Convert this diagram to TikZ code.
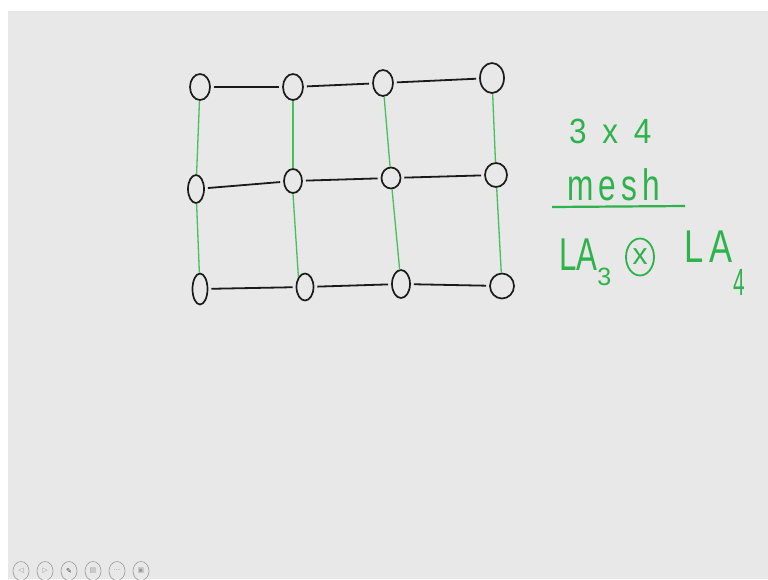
\documentclass[tikz,border=0pt]{standalone}
\usepackage{fontspec}
\setmainfont{Liberation Sans}
\newfontfamily\symfont{DejaVu Sans}
\usetikzlibrary{shapes.geometric}
\definecolor{boardgray}{HTML}{E8E8E8}
\definecolor{penblack}{HTML}{1A1A1A}
\definecolor{pengreen}{HTML}{46C05A}
\definecolor{inkgreen}{HTML}{2EB24C}
\definecolor{icongray}{HTML}{9A9A9A}

\begin{document}
\begin{tikzpicture}[
      x=1pt, y=-1pt,
      vtx/.style={draw=penblack, line width=1.7pt, ellipse, inner sep=0pt,
                  minimum width=20pt, minimum height=26pt},
      hlink/.style={draw=penblack, line width=1.8pt, shorten <=3pt, shorten >=3pt},
      vlink/.style={draw=pengreen, line width=1.3pt},
      hand/.style={text=inkgreen, inner sep=0pt, anchor=base west},
      iconbtn/.style={draw=icongray, line width=0.6pt, ellipse, inner sep=0pt,
                      minimum width=16pt, minimum height=19pt, text=icongray,
                      font=\symfont\fontsize{7}{7}\selectfont}
    ]
    % board
    \useasboundingbox (0,0) rectangle (768,579);
    \fill[white] (0,0) rectangle (768,579);
    \fill[boardgray] (8,11) rectangle (768,579);

    % mesh, row 1
    \node[vtx] (n11) at (200,87) {};
    \node[vtx] (n12) at (293,87) {};
    \node[vtx] (n13) at (383,83) {};
    \node[vtx, minimum width=24pt, minimum height=30pt] (n14) at (492,78) {};
    % mesh, row 2
    \node[vtx, minimum width=16pt, minimum height=28pt] (n21) at (196,189) {};
    \node[vtx, minimum width=18pt, minimum height=24pt] (n22) at (293,181) {};
    \node[vtx, minimum width=19pt, minimum height=21pt] (n23) at (391,178) {};
    \node[vtx, minimum width=22pt, minimum height=24pt] (n24) at (496,175) {};
    % mesh, row 3
    \node[vtx, minimum width=15pt, minimum height=31pt] (n31) at (200,289) {};
    \node[vtx, minimum width=17pt, minimum height=27pt] (n32) at (305,287) {};
    \node[vtx, minimum width=18pt, minimum height=28pt] (n33) at (401,284) {};
    \node[vtx, minimum width=24pt, minimum height=25pt] (n34) at (502,286) {};

    % black links along the rows
    \draw[hlink] (n11) -- (n12);
    \draw[hlink] (n12) -- (n13);
    \draw[hlink] (n13) -- (n14);
    \draw[hlink] (n21) -- (n22);
    \draw[hlink] (n22) -- (n23);
    \draw[hlink] (n23) -- (n24);
    \draw[hlink] (n31) -- (n32);
    \draw[hlink] (n32) -- (n33);
    \draw[hlink] (n33) -- (n34);

    % green links down the columns
    \draw[vlink] (n11) -- (n21);
    \draw[vlink] (n21) -- (n31);
    \draw[vlink] (n12) -- (n22);
    \draw[vlink] (n22.south) -- (n32.north west);
    \draw[vlink] (n13) -- (n23);
    \draw[vlink] (n23) -- (n33);
    \draw[vlink] (n14) -- (n24);
    \draw[vlink] (n24) -- (n34);

    % notes on the right
    \node[hand, font=\fontsize{35}{40}\selectfont] (size) at (569,143)
      {\scalebox{0.9}[1]{3\enspace x\enspace 4}};
    \node[hand, font=\fontsize{44}{48}\selectfont] (word) at (567,200)
      {\scalebox{0.72}[1]{m\,e\,s\,h}};
    \coordinate (barL) at (552,207);
    \coordinate (barR) at (685,206);
    \draw[draw=inkgreen, line width=2.2pt] (barL) -- (barR);
    \node[hand, font=\fontsize{46}{50}\selectfont] (la3) at (559,270)
      {\scalebox{0.68}[1]{LA}\raisebox{-15pt}{\fontsize{25}{25}\selectfont 3}};
    \node[draw=inkgreen, line width=1.8pt, ellipse, inner sep=0pt,
          minimum width=28pt, minimum height=37pt, text=inkgreen,
          font=\fontsize{30}{30}\selectfont] (otimes) at (640,257) {x};
    \node[hand, font=\fontsize{46}{50}\selectfont] (la4) at (684,262)
      {\scalebox{0.75}[1]{L\,A}\hspace{1pt}\raisebox{-33pt}{\fontsize{38}{38}\selectfont\scalebox{0.55}[1]{4}}};

    % player buttons
    \node[iconbtn] (prev) at (21,571) {◁};
    \node[iconbtn] (next) at (45,571) {▷};
    \node[iconbtn, text=black!75] (pen) at (69,571) {✎};
    \node[iconbtn] (page) at (93,571) {▤};
    \node[iconbtn] (more) at (117,571) {···};
    \node[iconbtn] (screen) at (141,571) {▣};
  \end{tikzpicture}
\end{document}
